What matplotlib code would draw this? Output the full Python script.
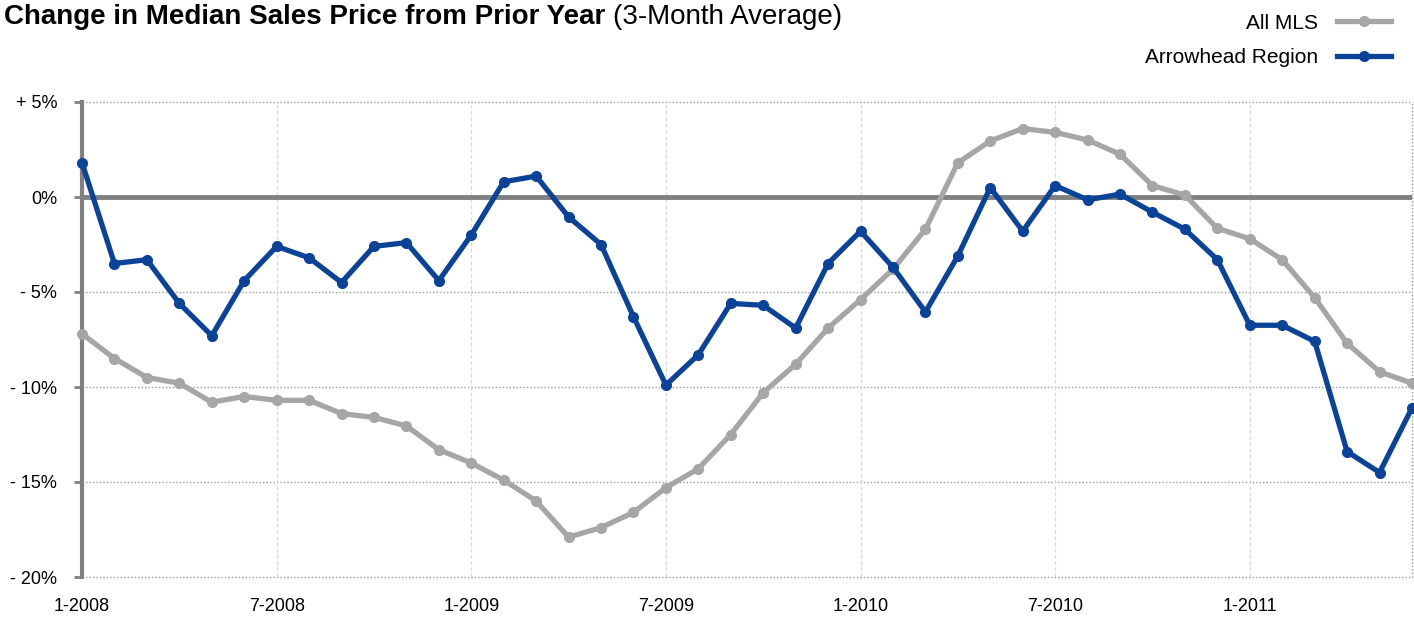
import numpy as np
import matplotlib.pyplot as plt
from matplotlib.lines import Line2D

plt.rcParams['font.family'] = ['Liberation Sans', 'DejaVu Sans']

# Datos: cambio % del precio mediano (promedio 3 meses), ene-2008 a jun-2011
all_mls = [-7.2, -8.5, -9.5, -9.8, -10.8, -10.5, -10.7, -10.7, -11.4, -11.6,
           -12.05, -13.3, -14.0, -14.9, -16.0, -17.9, -17.4, -16.6, -15.3, -14.3,
           -12.5, -10.3, -8.8, -6.9, -5.4, -3.8, -1.7, 1.8, 2.95, 3.6,
           3.4, 3.0, 2.25, 0.6, 0.1, -1.65, -2.2, -3.3, -5.3, -7.7,
           -9.2, -9.8]
arrowhead = [1.8, -3.5, -3.3, -5.6, -7.3, -4.4, -2.6, -3.2, -4.5, -2.6,
             -2.4, -4.4, -2.0, 0.8, 1.1, -1.05, -2.5, -6.3, -9.9, -8.3,
             -5.6, -5.7, -6.9, -3.5, -1.8, -3.7, -6.05, -3.1, 0.5, -1.8,
             0.6, -0.15, 0.15, -0.8, -1.7, -3.3, -6.75, -6.75, -7.6, -13.4,
             -14.5, -11.1]
months = np.arange(len(all_mls))

x_ticks = [0, 6, 12, 18, 24, 30, 36]
x_labels = ['1-2008', '7-2008', '1-2009', '7-2009', '1-2010', '7-2010', '1-2011']
y_ticks = [5, 0, -5, -10, -15, -20]
y_labels = ['+ 5%', '0%', '- 5%', '- 10%', '- 15%', '- 20%']

BLUE = '#0B4399'
GRAY = '#A6A6A6'
AXIS_GRAY = '#808080'

fig = plt.figure(figsize=(14.14, 6.21), dpi=100)
ax = fig.add_axes([82/1414, 1 - 577/621, 1330/1414, 475/621])

# Rejilla
for v in y_ticks:
    if v != 0:
        ax.axhline(v, color='#9a9a9a', lw=1, ls=(0, (1, 1.5)), zorder=1, clip_on=False)
for m in x_ticks[1:]:
    ax.axvline(m, color='#d9d9d9', lw=0.9, ls=(0, (3, 2)), zorder=1)
ax.axvline(months[-1], color='#9a9a9a', lw=1, ls=(0, (1, 1.5)), zorder=1, clip_on=False)
ax.axhline(0, color=AXIS_GRAY, lw=3.5, zorder=2)

ax.plot(months, all_mls, color=GRAY, lw=3.8, marker='o', ms=7, zorder=3,
        solid_capstyle='round', clip_on=False)
ax.plot(months, arrowhead, color=BLUE, lw=3.8, marker='o', ms=7, zorder=4,
        solid_capstyle='round', clip_on=False)

ax.set_xlim(0, months[-1])
ax.set_ylim(-20, 5)
ax.set_xticks(x_ticks)
ax.set_xticklabels(x_labels, fontsize=13)
ax.set_yticks(y_ticks)
ax.set_yticklabels(y_labels, fontsize=13)
ax.tick_params(axis='x', length=0, pad=15)
ax.tick_params(axis='y', length=6, width=2, color=AXIS_GRAY, pad=12)

for side in ['top', 'right', 'bottom']:
    ax.spines[side].set_visible(False)
ax.spines['left'].set_color(AXIS_GRAY)
ax.spines['left'].set_linewidth(3)

# Titulo
t1 = fig.text(4/1414, 1 - 24/621, 'Change in Median Sales Price from Prior Year',
              fontsize=20, fontweight='bold', va='baseline', ha='left')
fig.canvas.draw()
bb = t1.get_window_extent()
fig.text((bb.x1 + 8) / 1414, 1 - 24/621, '(3-Month Average)',
         fontsize=20, va='baseline', ha='left')

# Leyenda
handles = [Line2D([], [], color=GRAY, lw=3.8, marker='o', ms=7),
           Line2D([], [], color=BLUE, lw=3.8, marker='o', ms=7)]
fig.legend(handles, ['All MLS', 'Arrowhead Region'], loc='upper right',
           bbox_to_anchor=(1410/1414, 1 + 5/621), frameon=False, markerfirst=False,
           fontsize=15, handlelength=2.6, handletextpad=0.9, labelspacing=0.75)

fig.savefig('out.png', dpi=100)
